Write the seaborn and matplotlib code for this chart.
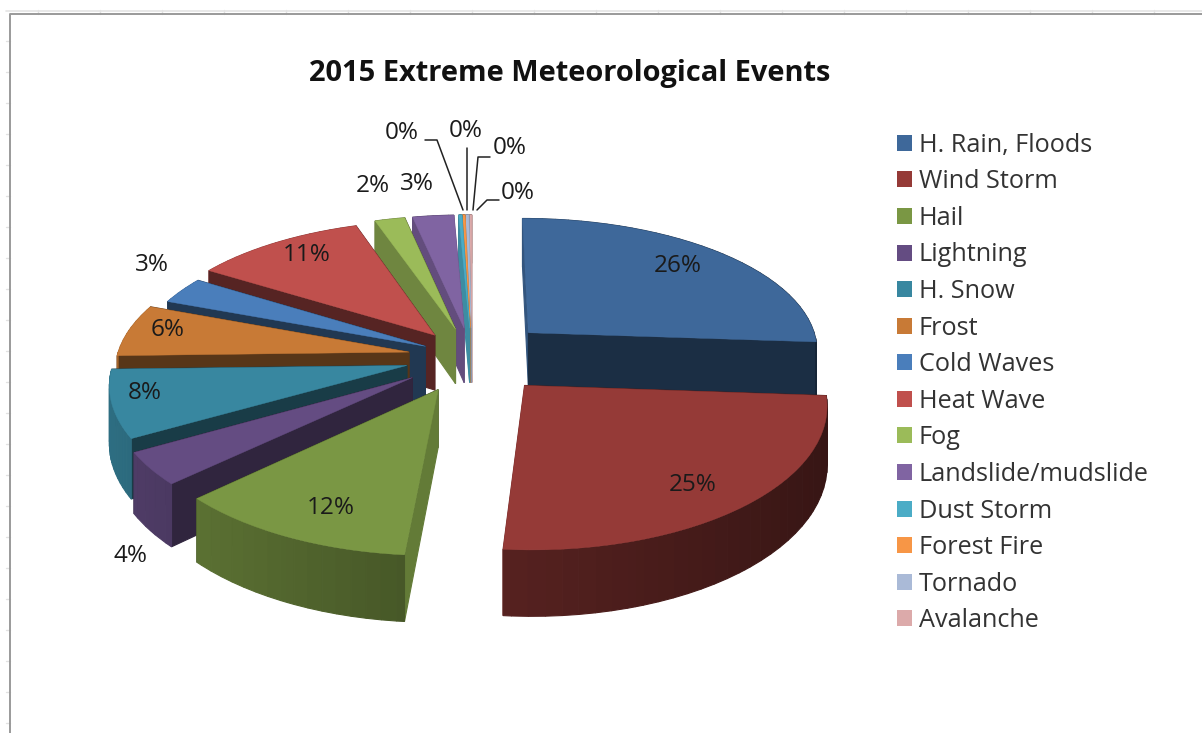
import matplotlib
matplotlib.use("Agg")
import matplotlib.pyplot as plt
from matplotlib.patches import Patch, Polygon
from matplotlib.transforms import Affine2D
import numpy as np
import seaborn as sns

categories = ["H. Rain, Floods", "Wind Storm", "Hail", "Lightning", "H. Snow", "Frost",
              "Cold Waves", "Heat Wave", "Fog", "Landslide/mudslide", "Dust Storm",
              "Forest Fire", "Tornado", "Avalanche"]
values = [26.2, 25.3, 11.6, 3.8, 7.9, 6.2, 3.2, 10.9, 1.9, 2.6, 0.2, 0.15, 0.2, 0.15]
hex_colors = ["#3E689A", "#953A37", "#7A9744", "#644C82", "#3887A0", "#C87A36", "#4A7EBB",
              "#C0504D", "#9BBB59", "#8064A2", "#4BACC6", "#F79646", "#AABAD7", "#DCAAAA"]
explode = [0.27, 0.27, 0.26, 0.25, 0.23, 0.22, 0.18, 0.21, 0.22, 0.22, 0.22, 0.22, 0.22, 0.22]

# label anchor pixels, same order as the slices
label_xy = [(678, 266), (693, 485), (331, 508), (130, 556), (145, 393), (168, 330), (152, 265),
            (307, 255), (373, 186), (417, 184), (402, 133), (466, 131), (510, 148), (518, 193)]
leaders = [[(425, 140), (437, 140), (463, 210)],
           [(467, 148), (467, 210)],
           [(490, 157), (478, 157), (473, 210)],
           [(499, 200), (487, 200), (477, 210)]]

CX, CY = 472, 357
RX, RY = 292, 135
DEPTH = 56


def project(pts):
    x, y = pts[:, 0], pts[:, 1]
    return np.column_stack([CX + x * RX / (1 + 0.12 * y), CY - y * RY / (1 + 0.13 * y)])


def depth_at(pts):
    return DEPTH / (1 + 0.13 * pts[:, 1])


def shade(color, f):
    return tuple(np.clip(np.array(color) * f, 0, 1))


sns.set_theme(style="white")
plt.rcParams["font.family"] = ["Open Sans", "DejaVu Sans"]
palette = sns.color_palette(hex_colors)

# pie on a throwaway axes just gives the wedge geometry
_, helper = plt.subplots()
wedges, _ = helper.pie(values, explode=explode, startangle=90, counterclock=False, radius=1)

fig = plt.figure(figsize=(12.02, 7.33), dpi=100)
ax = fig.add_axes([0, 0, 1, 1])
ax.set_xlim(0, 1202)
ax.set_ylim(733, 0)
ax.axis("off")

# spreadsheet grid bits around the chart area
for x in range(38, 1202, 62):
    ax.plot([x, x], [10, 14], color="#e2e2e2", lw=1, zorder=0)
for y in range(41, 733, 31):
    ax.plot([6, 10], [y, y], color="#e2e2e2", lw=1, zorder=0)
ax.plot([6, 1202], [11, 11], color="#e4e4e4", lw=1.2, zorder=0)
ax.plot([1202, 10, 10], [14, 14, 733], color="#9a9a9a", lw=1.4, zorder=1)

order = sorted(range(len(values)), key=lambda i: -np.sin(np.radians((wedges[i].theta1 + wedges[i].theta2) / 2)))

z = 5
for i in order:
    w = wedges[i]
    # flatten the wedge outline at a fine scale
    scale = Affine2D().scale(400)
    path = w.get_path().transformed(w.get_patch_transform())
    verts = path.to_polygons(scale, closed_only=True)[0] / 400
    top = project(verts)
    bottom = top + np.column_stack([np.zeros(len(top)), depth_at(verts)])
    color = palette[i]
    center = np.array(w.center)
    segs = []
    for a in range(len(verts) - 1):
        mid = (verts[a] + verts[a + 1]) / 2 - center
        rr = np.hypot(*mid)
        edge = verts[a + 1] - verts[a]
        if rr > 0.985:
            nx = mid[0] / rr
            f = 0.56 + 0.26 * -nx if nx < 0 else 0.56 - 0.2 * nx
        else:
            nrm = np.array([edge[1], -edge[0]]) / (np.hypot(*edge) + 1e-9)
            f = 0.44 + 0.38 * abs(nrm[0]) ** 6 * (nrm[1] < 0.2)
        segs.append((verts[a:a + 2, 1].mean(), a, f))
    for _, a, f in sorted(segs, key=lambda s: -s[0]):
        quad = [top[a], top[a + 1], bottom[a + 1], bottom[a]]
        c = shade(color, f)
        ax.add_patch(Polygon(quad, closed=True, fc=c, ec=c, lw=0.8, zorder=z))
        z += 0.001
    ax.add_patch(Polygon(top, closed=True, fc=color, ec=color, lw=0.3, zorder=z))
    z += 1

# the label text comes from the rounded share, like the source chart
total = sum(values)
for v, (lx, ly) in zip(values, label_xy):
    ax.text(lx, ly, f"{v / total * 100:.0f}%", ha="center", va="center", fontsize=17.5,
            color="#1a1a1a", zorder=200)
for pts in leaders:
    arr = np.array(pts)
    ax.plot(arr[:, 0], arr[:, 1], color="#222222", lw=1.1, zorder=150)

ax.text(570, 73, "2015 Extreme Meteorological Events", ha="center", va="center",
        fontsize=20.9, fontweight="bold", color="#111111", zorder=200)

handles = [Patch(fc=c, ec="none", label=n) for c, n in zip(palette, categories)]
ax.legend(handles=handles, loc="upper left", bbox_to_anchor=(874 / 1202, 1 - 110 / 733),
          frameon=False, fontsize=18.2, labelspacing=0.458, handlelength=0.6, handleheight=0.6,
          handletextpad=0.28, labelcolor="#333333")

fig.savefig("out.png", dpi=100)
